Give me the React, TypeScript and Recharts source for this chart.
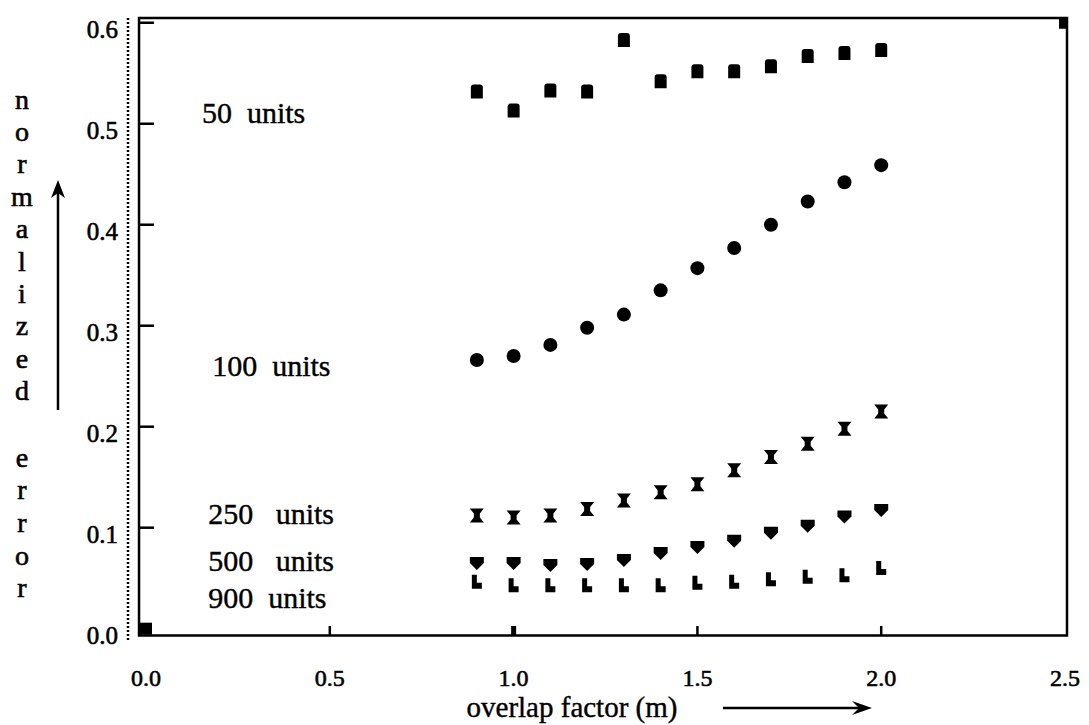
import React from 'react';
import { ScatterChart, Scatter, XAxis, YAxis, ReferenceArea, ReferenceDot, Customized } from 'recharts';

const overlap = [0.9, 1.0, 1.1, 1.2, 1.3, 1.4, 1.5, 1.6, 1.7, 1.8, 1.9, 2.0];
const err50 = [0.532, 0.513, 0.533, 0.532, 0.583, 0.542, 0.552, 0.552, 0.557, 0.567, 0.570, 0.573];
const err100 = [0.266, 0.270, 0.281, 0.298, 0.311, 0.335, 0.357, 0.377, 0.400, 0.423, 0.442, 0.459];
const err250 = [0.112, 0.110, 0.112, 0.1185, 0.127, 0.135, 0.143, 0.157, 0.170, 0.183, 0.198, 0.215];
const err500 = [0.065, 0.065, 0.063, 0.064, 0.068, 0.075, 0.081, 0.087, 0.095, 0.102, 0.111, 0.1175];
const err900 = [0.0465, 0.043, 0.043, 0.043, 0.043, 0.043, 0.0455, 0.0465, 0.049, 0.0515, 0.053, 0.060];
const cornerX = [0.0, 2.5];
const cornerY = [0.0, 0.6];
const xTicks = [0, 0.5, 1.0, 1.5, 2.0, 2.5];
const yTicks = [0, 0.1, 0.2, 0.3, 0.4, 0.5, 0.6];
const innerXTicks = [0.5, 1.0, 1.5, 2.0];
const seriesLabels = ['50\u00a0\u00a0units', '100\u00a0\u00a0units', '250\u00a0\u00a0\u00a0units', '500\u00a0\u00a0\u00a0units', '900\u00a0\u00a0units'];
const labelX = [0.152, 0.180, 0.169, 0.169, 0.169];
const labelY = [0.5116, 0.261, 0.1145, 0.068, 0.0304];
const yTitleTop = 'normalized';
const yTitleBottom = 'error';
const xTitle = 'overlap factor (m)';

const FONT = '"Liberation Serif", "Times New Roman", serif';
const HEAVY = { stroke: '#000', strokeWidth: 0.6 };

const toPts = (ys: number[]) => overlap.map((x, i) => ({ x, y: ys[i] }));
const corners = cornerX.map((x, i) => ({ x, y: cornerY[i] }));

const SquareShape = (p: any) => (
  <path d={`M${p.cx - 6},${p.cy + 7} v-11 q0,-3 3,-3 h6 q3,0 3,3 v11 z`} fill="#000" />
);
const CircleShape = (p: any) => <circle cx={p.cx} cy={p.cy} r={7} fill="#000" />;
const HourglassShape = (p: any) => (
  <path
    d={`M${p.cx - 7},${p.cy - 7} h14 l-4,5 v4 l4,5 h-14 l4,-5 v-4 z`}
    fill="#000"
  />
);
const ShieldShape = (p: any) => (
  <path d={`M${p.cx - 7},${p.cy - 6} h14 v6 l-7,7 l-7,-7 z`} fill="#000" />
);
const BlockShape = (p: any) => (
  <path d={`M${p.cx - 5},${p.cy - 7} h5 v8 h5 v6 h-10 z`} fill="#000" />
);
const CornerShape = (p: any) => <rect x={p.cx - 6} y={p.cy - 6} width={12} height={12} fill="#000" />;

const YTick = (p: any) => {
  const v = p.payload.value;
  return (
    <g>
      <text x={p.x - 10} y={p.y + 7} textAnchor="end" dominantBaseline="central" fontFamily={FONT} fontSize={25} fill="#000" {...HEAVY}>
        {v.toFixed(1)}
      </text>
      {v > 0 ? <line x1={p.x + 11} x2={p.x + 26} y1={p.y} y2={p.y} stroke="#000" strokeWidth={2.5} /> : null}
    </g>
  );
};

const XTick = (p: any) => {
  const v = p.payload.value;
  const inner = innerXTicks.includes(v);
  return (
    <g>
      <text x={p.x} y={p.y + 37} textAnchor="middle" dominantBaseline="central" fontFamily={FONT} fontSize={24} fill="#000" {...HEAVY}>
        {v.toFixed(1)}
      </text>
      {inner ? <line x1={p.x} x2={p.x} y1={p.y - 6} y2={p.y - 15} stroke="#000" strokeWidth={v === 1.0 ? 5 : 2.5} /> : null}
    </g>
  );
};

const LabelShape = (text: string) => (p: any) => (
  <text x={p.cx} y={p.cy} dominantBaseline="central" fontFamily={FONT} fontSize={30} fill="#000" stroke="#000" strokeWidth={0.4} style={{ whiteSpace: 'pre' }}>
    {text}
  </text>
);

const Titles = () => (
  <g fontFamily={FONT} fill="#000">
    {yTitleTop.split('').map((ch, i) => (
      <text key={'t' + i} x={22} y={99 + i * 32.4} textAnchor="middle" dominantBaseline="central" fontSize={28} {...HEAVY}>
        {ch}
      </text>
    ))}
    {yTitleBottom.split('').map((ch, i) => (
      <text key={'b' + i} x={22} y={457 + i * 32.7} textAnchor="middle" dominantBaseline="central" fontSize={28} {...HEAVY}>
        {ch}
      </text>
    ))}
    <line x1={58} x2={58} y1={410} y2={190} stroke="#000" strokeWidth={2.5} />
    <path d="M58,180 L51,198 L58,193 L65,198 Z" fill="#000" />
    <text x={572} y={707} textAnchor="middle" dominantBaseline="central" fontSize={29} stroke="#000" strokeWidth={0.4}>
      {xTitle}
    </text>
    <line x1={723} x2={862} y1={708} y2={708} stroke="#000" strokeWidth={2.5} />
    <path d="M872,708 L852,701 L859,708 L852,715 Z" fill="#000" />
  </g>
);

export default function App() {
  return (
    <div style={{ position: 'absolute', left: 0, top: 0, background: '#fff' }}>
      <ScatterChart width={1089} height={725} margin={{ top: 18, right: 22, bottom: 0, left: 0 }}>
        <XAxis
          type="number"
          dataKey="x"
          domain={[-0.049, 2.5054]}
          ticks={xTicks}
          allowDataOverflow
          interval={0}
          axisLine={false}
          tickLine={false}
          tickSize={0}
          tickMargin={0}
          height={84}
          tick={<XTick />}
        />
        <YAxis
          type="number"
          dataKey="y"
          domain={[-0.0122, 0.6047]}
          ticks={yTicks}
          allowDataOverflow
          interval={0}
          axisLine={{ stroke: '#000', strokeWidth: 2.5, strokeDasharray: '2 2' }}
          tickLine={false}
          tickSize={0}
          tickMargin={0}
          width={128}
          tick={<YTick />}
        />
        <ReferenceArea
          x1={-0.019}
          x2={2.5054}
          y1={-0.0067}
          y2={0.6047}
          fill="none"
          fillOpacity={0}
          stroke="#000"
          strokeWidth={2.5}
          ifOverflow="visible"
        />
        <Scatter data={corners} shape={CornerShape} isAnimationActive={false} />
        <Scatter data={toPts(err50)} shape={SquareShape} isAnimationActive={false} />
        <Scatter data={toPts(err100)} shape={CircleShape} isAnimationActive={false} />
        <Scatter data={toPts(err250)} shape={HourglassShape} isAnimationActive={false} />
        <Scatter data={toPts(err500)} shape={ShieldShape} isAnimationActive={false} />
        <Scatter data={toPts(err900)} shape={BlockShape} isAnimationActive={false} />
        {seriesLabels.map((t, i) => (
          <ReferenceDot key={t} x={labelX[i]} y={labelY[i]} r={0} ifOverflow="visible" shape={LabelShape(t)} />
        ))}
        <Customized component={<Titles />} />
      </ScatterChart>
    </div>
  );
}
